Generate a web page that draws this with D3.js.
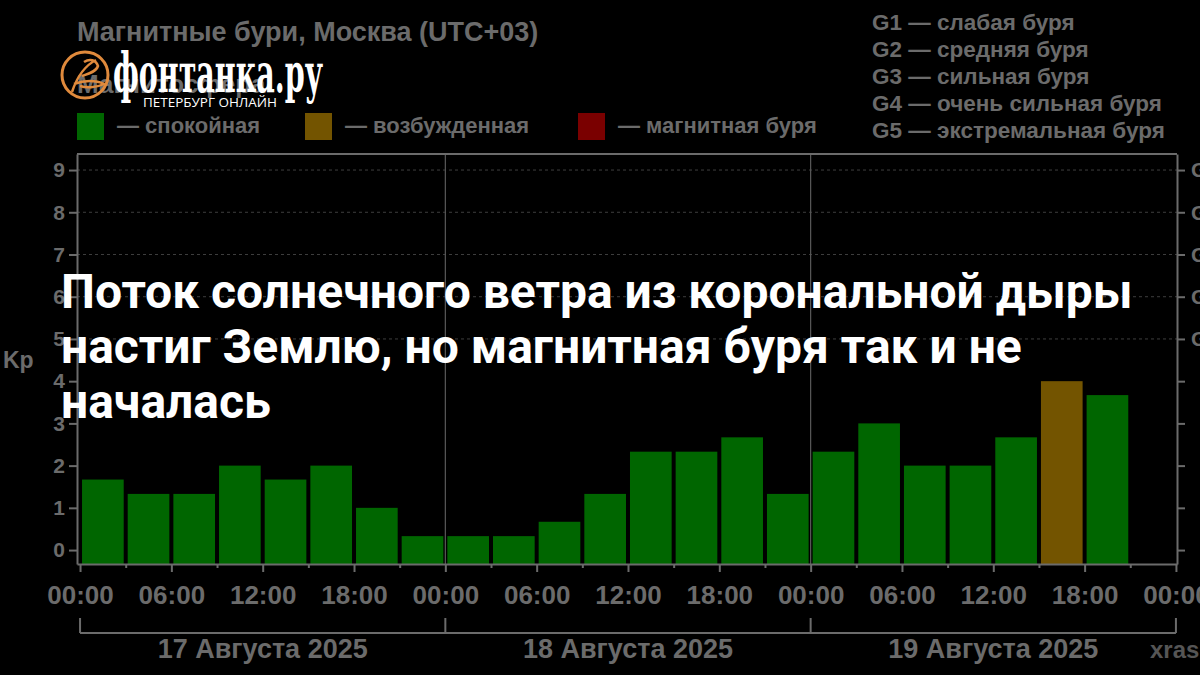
<!DOCTYPE html>
<html>
<head>
<meta charset="utf-8">
<script src="https://cdn.jsdelivr.net/npm/d3@7"></script>
<style>
  html, body { margin: 0; padding: 0; background: #000; }
  svg { display: block; }
</style>
</head>
<body>
<div id="graph"></div>
<script>
// Kp index, 3-hour intervals, 17-19 Aug 2025 (Moscow time)
var days = ["17 Августа 2025", "18 Августа 2025", "19 Августа 2025"];
var kpValues = [
  1.67, 1.33, 1.33, 2.0, 1.67, 2.0, 1.0, 0.33,
  0.33, 0.33, 0.67, 1.33, 2.33, 2.33, 2.67, 1.33,
  2.33, 3.0, 2.0, 2.0, 2.67, 4.0, 3.67
];
var hourLabels = ["00:00", "06:00", "12:00", "18:00"];
var kpTicks = [0, 1, 2, 3, 4, 5, 6, 7, 8, 9];
var gLabels = ["G1", "G2", "G3", "G4", "G5"];
var legendNames = ["— спокойная", "— возбужденная", "— магнитная буря"];
var legendColors = ["#006600", "#735400", "#7a0000"];
var stormNames = [
  "G1 — слабая буря",
  "G2 — средняя буря",
  "G3 — сильная буря",
  "G4 — очень сильная буря",
  "G5 — экстремальная буря"
];
var headline = [
  "Поток солнечного ветра из корональной дыры",
  "настиг Землю, но магнитная буря так и не",
  "началась"
];

var width = 1200;
var height = 675;
var gray = "#6b6b6b";
var font = "'Liberation Sans', Arial, sans-serif";

var svg = d3.select("#graph").
append("svg").
attr("width", width).
attr("height", height).
style("background", "#000");

var xScale = d3.scaleLinear().domain([-0.2, 72.07]).range([77, 1177]);
var yScale = d3.scaleLinear().domain([-0.33, 9.38]).range([564, 154]);

function barColor(v) {
  if (v >= 5) return legendColors[2];
  if (v >= 4) return legendColors[1];
  return legendColors[0];
}

// dashed grid for storm levels
svg.append("g").
selectAll("line").
data(kpTicks.filter(function (d) {return d >= 5;})).
enter().
append("line").
attr("x1", 77).
attr("x2", 1177).
attr("y1", function (d) {return yScale(d);}).
attr("y2", function (d) {return yScale(d);}).
style("stroke", "#3e3e3e").
style("stroke-width", 1).
style("stroke-dasharray", "3,3");

// day separators
svg.append("g").
selectAll("line").
data([24, 48]).
enter().
append("line").
attr("x1", function (d) {return xScale(d);}).
attr("x2", function (d) {return xScale(d);}).
attr("y1", 154).
attr("y2", 564).
style("stroke", "#5a5a5a").
style("stroke-width", 1.2);

// bars
svg.append("g").
selectAll("rect").
data(kpValues).
enter().
append("rect").
attr("x", function (d, i) {return xScale(i * 3) + 2;}).
attr("y", function (d) {return yScale(d);}).
attr("width", function (d, i) {return xScale(i * 3 + 3) - xScale(i * 3) - 4;}).
attr("height", function (d) {return yScale(-0.33) - yScale(d);}).
style("fill", function (d) {return barColor(d);});

// top border
svg.append("line").
attr("x1", 77).attr("x2", 1177).
attr("y1", 154).attr("y2", 154).
style("stroke", gray).style("stroke-width", 2);

function styleAxis(g, size) {
  g.selectAll("path, line").style("stroke", gray).style("stroke-width", 2);
  g.selectAll("text").
  style("fill", gray).
  style("font-family", font).
  style("font-weight", "bold").
  style("font-size", size + "px");
}

var yAxis = d3.axisLeft(yScale).tickValues(kpTicks).tickSize(8).tickSizeOuter(0).tickPadding(4);
svg.append("g").
attr("transform", "translate(77,0)").
call(yAxis).
call(styleAxis, 21);

var yAxisRight = d3.axisRight(yScale).
tickValues(kpTicks).
tickSize(8).
tickSizeOuter(0).
tickPadding(6).
tickFormat(function (d) {return d >= 5 ? gLabels[d - 5] : "";});
svg.append("g").
attr("transform", "translate(1177,0)").
call(yAxisRight).
call(styleAxis, 21);

var xAxis = d3.axisBottom(xScale).
tickValues(d3.range(0, 73, 6)).
tickSize(8).
tickSizeOuter(0).
tickPadding(14).
tickFormat(function (d) {return hourLabels[d % 24 / 6];});
svg.append("g").
attr("transform", "translate(0,564)").
call(xAxis).
call(styleAxis, 26);

var xMinor = d3.axisBottom(xScale).
tickValues(d3.range(3, 72, 6)).
tickSize(4).
tickSizeOuter(0).
tickFormat("");
svg.append("g").
attr("transform", "translate(0,564)").
call(xMinor).
call(styleAxis, 26).
select(".domain").remove();

// day bracket
svg.append("path").
attr("d", "M" + xScale(0) + ",633H" + xScale(72)).
style("stroke", gray).style("stroke-width", 2).style("fill", "none");

svg.append("g").
selectAll("line").
data([0, 24, 48, 72]).
enter().
append("line").
attr("x1", function (d) {return xScale(d);}).
attr("x2", function (d) {return xScale(d);}).
attr("y1", 618).
attr("y2", 633).
style("stroke", gray).
style("stroke-width", 2);

svg.append("g").
selectAll("text").
data(days).
enter().
append("text").
attr("x", function (d, i) {return xScale(i * 24 + 12);}).
attr("y", 658).
style("text-anchor", "middle").
style("fill", gray).
style("font-family", font).
style("font-weight", "bold").
style("font-size", "27px").
text(function (d) {return d;});

svg.append("text").
attr("x", 1150).
attr("y", 658).
style("fill", "#555").
style("font-family", font).
style("font-weight", "bold").
style("font-size", "24px").
text("xras.ru");

svg.append("text").
attr("x", 3).
attr("y", 368).
style("fill", gray).
style("font-family", font).
style("font-weight", "bold").
style("font-size", "23px").
text("Kp");

// titles
svg.append("text").
attr("x", 77).
attr("y", 41).
style("fill", gray).
style("font-family", font).
style("font-weight", "bold").
style("font-size", "27px").
text("Магнитные бури, Москва (UTC+03)");

svg.append("text").
attr("x", 77).
attr("y", 93).
style("fill", gray).
style("font-family", font).
style("font-weight", "bold").
style("font-size", "26px").
text("Магнитосфера");

// legend
var legendX = [77, 305, 578];
var legend = svg.append("g").attr("id", "legend");
legend.selectAll("rect").
data(legendNames).
enter().
append("rect").
attr("x", function (d, i) {return legendX[i];}).
attr("y", 113).
attr("width", 27).
attr("height", 27).
style("fill", function (d, i) {return legendColors[i];});

legend.selectAll("text").
data(legendNames).
enter().
append("text").
attr("x", function (d, i) {return legendX[i] + 40;}).
attr("y", 133).
style("fill", gray).
style("font-family", font).
style("font-weight", "bold").
style("font-size", "22px").
text(function (d) {return d;});

svg.append("g").
selectAll("text").
data(stormNames).
enter().
append("text").
attr("x", 872).
attr("y", function (d, i) {return 30 + i * 27;}).
style("fill", gray).
style("font-family", font).
style("font-weight", "bold").
style("font-size", "22.5px").
text(function (d) {return d;});

// site logo
var logo = svg.append("g").attr("id", "logo");
logo.append("circle").
attr("cx", 85).attr("cy", 75).attr("r", 23).
style("fill", "none").
style("stroke", "#e08a3c").
style("stroke-width", 3);
logo.append("path").
attr("d", "M72,92 C76,80 84,66 96,60 M84,62 C90,58 96,60 98,66 C96,72 88,74 82,76 M74,84 C84,80 96,80 104,84 C96,88 86,88 80,86").
style("fill", "none").
style("stroke", "#e08a3c").
style("stroke-width", 2.5);
logo.append("text").
attr("x", 113).
attr("y", 92).
attr("textLength", 210).
attr("lengthAdjust", "spacingAndGlyphs").
style("fill", "#fff").
style("font-family", "'DejaVu Serif Condensed', 'DejaVu Serif', serif").
style("font-weight", "bold").
style("font-size", "54px").
text("фонтанка.ру");
logo.append("text").
attr("x", 143).
attr("y", 107).
attr("textLength", 134).
attr("lengthAdjust", "spacingAndGlyphs").
style("fill", "#fff").
style("font-family", "'Open Sans', sans-serif").
style("font-size", "12px").
text("ПЕТЕРБУРГ ОНЛАЙН");

// headline overlay
svg.append("g").
selectAll("text").
data(headline).
enter().
append("text").
attr("x", 61).
attr("y", function (d, i) {return 308 + i * 55;}).
style("fill", "#fff").
style("font-family", "Roboto, sans-serif").
style("font-weight", "bold").
style("font-size", "48px").
text(function (d) {return d;});
</script>
</body>
</html>
